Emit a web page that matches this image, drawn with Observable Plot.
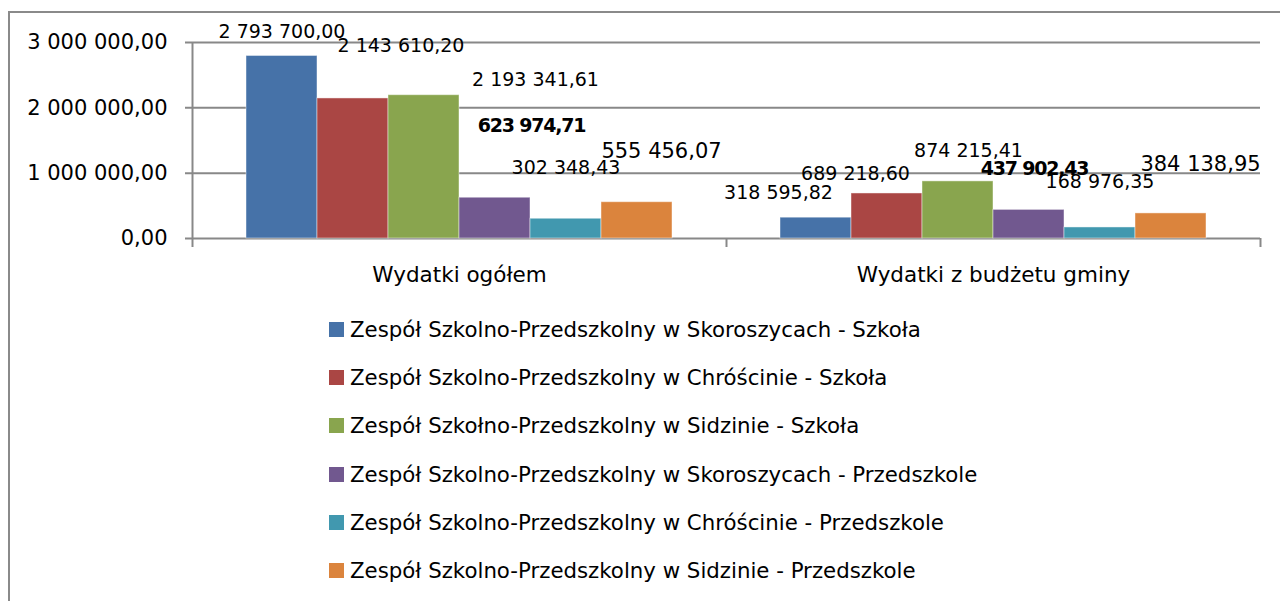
<!DOCTYPE html>
<html>
<head>
<meta charset="utf-8">
<script src="https://cdn.jsdelivr.net/npm/d3@7"></script>
<script src="https://cdn.jsdelivr.net/npm/@observablehq/plot@0.6"></script>
<style>
  html, body { margin: 0; padding: 0; background: #fff; }
  #wrap { position: relative; width: 1280px; height: 601px; overflow: hidden; color: #000; font-family: "DejaVu Sans", sans-serif; }
  #frame { position: absolute; left: 8px; top: 11px; width: 1300px; height: 620px; border-left: 2px solid #8a8a8a; border-top: 2px solid #8a8a8a; }
  #wrap svg { position: absolute; left: 0; top: 0; }
  g[font-weight="bold"] text { letter-spacing: -1.2px; }
  #legend { position: absolute; left: 329px; top: 305.4px; }
  .lrow { height: 48.2px; display: flex; align-items: center; font-size: 21.3px; white-space: nowrap; }
  .lsw { width: 15px; height: 15px; margin-right: 6px; flex: none; }
</style>
</head>
<body>
<div id="wrap"><div id="frame"></div></div>
<script>
// ---- data ----
const categories = ["Wydatki ogółem", "Wydatki z budżetu gminy"];
const series = [
  "Zespół Szkolno-Przedszkolny w Skoroszycach - Szkoła",
  "Zespół Szkolno-Przedszkolny w Chróścinie - Szkoła",
  "Zespół Szkołno-Przedszkolny w Sidzinie - Szkoła",
  "Zespół Szkolno-Przedszkolny w Skoroszycach - Przedszkole",
  "Zespół Szkolno-Przedszkolny w Chróścinie - Przedszkole",
  "Zespół Szkolno-Przedszkolny w Sidzinie - Przedszkole"
];
const valuesOgolem = [2793700.00, 2143610.20, 2193341.61, 623974.71, 302348.43, 555456.07];
const valuesGmina = [318595.82, 689218.60, 874215.41, 437902.43, 168976.35, 384138.95];
const colors = ["#4672A8", "#AA4644", "#89A54E", "#71588F", "#4198AF", "#DB843D"];
const yTicks = [0, 1000000, 2000000, 3000000];

// ---- label styling (offsets relative to bar top, as placed in the original) ----
const labelStyleOgolem = [
  {dx: 0, dy: -17.5}, {dx: 48, dy: -46}, {dx: 111.5, dy: -9},
  {dx: 36.5, dy: -66, bold: true}, {dx: 0, dy: -45}, {dx: 24.5, dy: -44, big: true}
];
const labelStyleGmina = [
  {dx: -37.5, dy: -19}, {dx: -31.5, dy: -13}, {dx: 10.5, dy: -24},
  {dx: 5.5, dy: -35, bold: true}, {dx: 0, dy: -39}, {dx: 29.5, dy: -42, big: true}
];

const rows = [];
[valuesOgolem, valuesGmina].forEach((vals, ci) => {
  vals.forEach((v, si) => rows.push({category: categories[ci], series: series[si], value: v, ci, si}));
});

const fmt = d3.formatLocale({decimal: ",", thousands: " ", grouping: [3], currency: ["", ""]}).format(",.2f");

const W = 1280, H = 300;
const margins = {marginLeft: 192, marginRight: 20, marginTop: 42, marginBottom: 62};
const gray = "#888888";
const baseStyle = {fontFamily: "DejaVu Sans", fontSize: "21px", color: "#000", background: "transparent", overflow: "visible"};

// background layer: gridlines, axes, category labels
const bg = Plot.plot({
  width: W, height: H, ...margins,
  style: baseStyle,
  x: {type: "linear", domain: [0, categories.length], axis: null},
  y: {domain: [0, 3000000], axis: null},
  marks: [
    Plot.ruleY(yTicks, {stroke: gray, strokeWidth: 2, insetLeft: -7}),
    Plot.ruleX([0], {stroke: gray, strokeWidth: 2, insetBottom: -9}),
    Plot.ruleX(d3.range(1, categories.length + 1), {y1: 0, y2: 0, insetBottom: -9, stroke: gray, strokeWidth: 2}),
    Plot.axisY(yTicks, {tickSize: 0, tickPadding: 25, tickFormat: fmt, label: null, fontSize: 21}),
    Plot.axisX(d3.range(categories.length).map(i => i + 0.5), {
      tickSize: 0, tickPadding: 28, label: null, fontSize: 21.5,
      tickFormat: d => categories[Math.floor(d)]
    })
  ]
});

// overlay layer: bars and value labels
const labelMarks = rows.map(r => {
  const st = (r.ci === 0 ? labelStyleOgolem : labelStyleGmina)[r.si];
  return Plot.text([r], {
    fx: "category", x: "series", y: "value",
    text: d => fmt(d.value),
    dx: st.dx, dy: st.dy, lineAnchor: "bottom",
    fontSize: st.big ? 21 : 19,
    fontWeight: st.bold ? "bold" : "normal",
    fill: "#000"
  });
});

const fg = Plot.plot({
  width: W, height: H, ...margins,
  style: baseStyle,
  fx: {domain: categories, paddingInner: 0.2, paddingOuter: 0.1, axis: null, label: null},
  x: {domain: series, padding: 0, axis: null},
  y: {domain: [0, 3000000], axis: null},
  color: {domain: series, range: colors},
  marks: [
    Plot.barY(rows, {fx: "category", x: "series", y: "value", fill: "series", stroke: "#ffffff", strokeOpacity: 0.45, strokeWidth: 1}),
    ...labelMarks
  ]
});

const wrap = document.getElementById("wrap");
wrap.appendChild(bg);
wrap.appendChild(fg);

// legend
const legend = document.createElement("div");
legend.id = "legend";
series.forEach((s, i) => {
  const row = document.createElement("div");
  row.className = "lrow";
  const sw = document.createElement("span");
  sw.className = "lsw";
  sw.style.background = colors[i];
  const t = document.createElement("span");
  t.textContent = s;
  row.appendChild(sw);
  row.appendChild(t);
  legend.appendChild(row);
});
wrap.appendChild(legend);
</script>
</body>
</html>
